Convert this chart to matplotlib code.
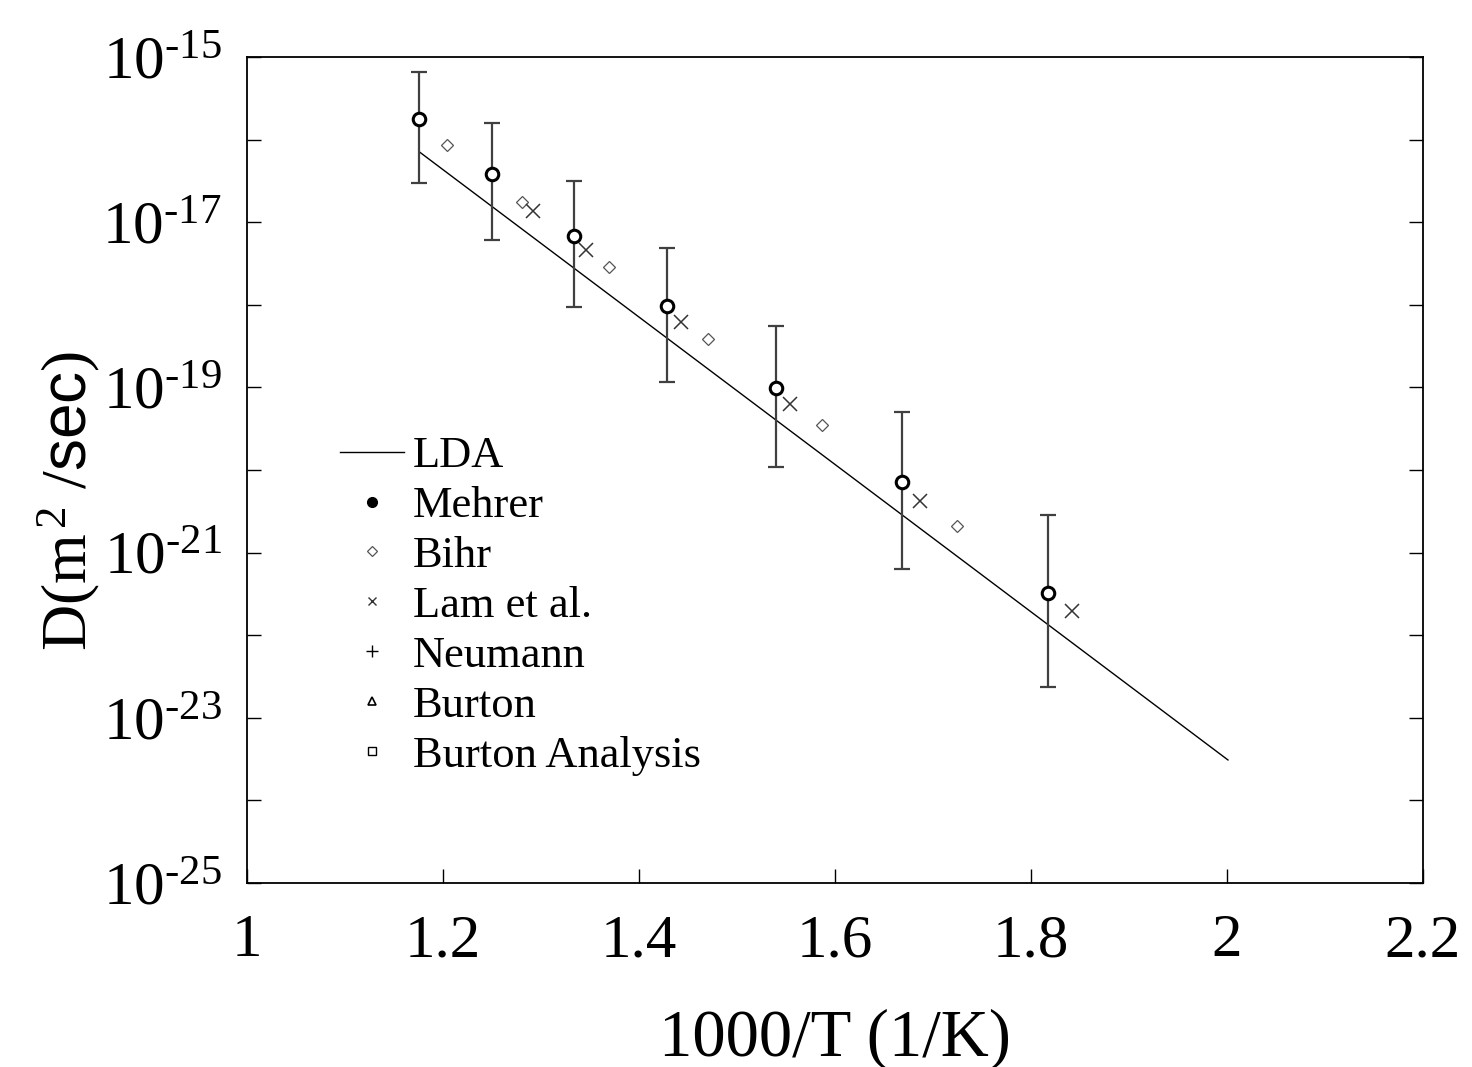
import numpy as np
import matplotlib
matplotlib.use('Agg')
import matplotlib.pyplot as plt
from matplotlib.lines import Line2D
from matplotlib.ticker import FixedLocator, FuncFormatter

plt.rcParams['font.family'] = ['Liberation Serif', 'DejaVu Serif']
plt.rcParams['mathtext.fontset'] = 'custom'
plt.rcParams['mathtext.rm'] = 'Liberation Serif'
plt.rcParams['mathtext.it'] = 'Liberation Serif:italic'
plt.rcParams['mathtext.sf'] = 'Liberation Sans'

# Mehrer (with error bars), values as log10(D)
mehrer_x = [1.176, 1.250, 1.334, 1.429, 1.540, 1.668, 1.817]
mehrer_logD = [-15.75, -16.42, -17.17, -18.01, -19.01, -20.15, -21.49]
mehrer_top = [-15.18, -15.80, -16.50, -17.31, -18.26, -19.30, -20.54]
mehrer_bot = [-16.53, -17.22, -18.03, -18.93, -19.96, -21.20, -22.63]

# Bihr
bihr_x = [1.204, 1.281, 1.369, 1.470, 1.587, 1.724]
bihr_logD = [-16.07, -16.75, -17.54, -18.42, -19.46, -20.68]

# Lam et al.
lam_x = [1.292, 1.346, 1.443, 1.554, 1.687, 1.842]
lam_logD = [-16.86, -17.34, -18.21, -19.20, -20.37, -21.71]

# LDA fit line
lda_x = [1.176, 2.001]
lda_logD = [-16.15, -23.51]

legend_labels = ['LDA', 'Mehrer', 'Bihr', 'Lam et al.', 'Neumann', 'Burton', 'Burton Analysis']

fig = plt.figure(figsize=(14.72, 10.67), dpi=100)
ax = fig.add_axes([0.1678, 0.1724, 0.7989, 0.7742])

ax.plot(lda_x, 10.0 ** np.array(lda_logD), color='black', lw=1.0)

y = 10.0 ** np.array(mehrer_logD)
yerr = [y - 10.0 ** np.array(mehrer_bot), 10.0 ** np.array(mehrer_top) - y]
ax.errorbar(mehrer_x, y, yerr=yerr, fmt='none', ecolor='#404040', elinewidth=1.6,
            capsize=6, capthick=1.6)
ax.plot(mehrer_x, y, 'o', ms=9, mfc='white', mec='black', mew=2.2)

ax.plot(bihr_x, 10.0 ** np.array(bihr_logD), 'D', ms=6, mfc='white', mec='#555555', mew=0.9)
ax.plot(lam_x, 10.0 ** np.array(lam_logD), 'x', ms=10, color='#333333', mew=1.1)

ax.set_yscale('log')
ax.set_xlim(1, 2.2)
ax.set_ylim(1e-25, 1e-15)

ax.yaxis.set_major_locator(FixedLocator([10.0 ** e for e in range(-25, -14)]))
ax.yaxis.set_minor_locator(FixedLocator([]))


def ylab(v, pos):
    e = int(round(np.log10(v)))
    if e % 2 == 0:
        return ''
    return r'$10^{\text{-}%d}$' % abs(e)


ax.yaxis.set_major_formatter(FuncFormatter(ylab))
ax.set_xticks([1, 1.2, 1.4, 1.6, 1.8, 2, 2.2])
ax.xaxis.set_major_formatter(FuncFormatter(lambda v, p: '%g' % v))

ax.tick_params(axis='both', direction='in', length=10, width=1.0, labelsize=44)
ax.tick_params(axis='y', right=True, pad=18)
ax.tick_params(axis='x', top=False, pad=22)
for s in ax.spines.values():
    s.set_linewidth(1.3)

ax.set_xlabel('1000/T (1/K)', fontsize=48, labelpad=28)
ax.set_ylabel(r'D(m$^{\,2}$ /$\mathsf{sec}$)', fontsize=46)
ax.yaxis.set_label_coords(-0.123, 0.4625)

handles = [
    Line2D([], [], color='black', lw=1.0),
    Line2D([], [], ls='none', marker='o', ms=7, mfc='black', mec='black'),
    Line2D([], [], ls='none', marker='D', ms=5, mfc='white', mec='#555555', mew=0.9),
    Line2D([], [], ls='none', marker='x', ms=6, color='#333333', mew=1.0),
    Line2D([], [], ls='none', marker='+', ms=8, color='black', mew=1.0),
    Line2D([], [], ls='none', marker='^', ms=6, mfc='white', mec='black', mew=1.2),
    Line2D([], [], ls='none', marker='s', ms=6, mfc='white', mec='black', mew=1.0),
]
ax.legend(handles, legend_labels, loc='upper left', bbox_to_anchor=(0.079, 0.541),
          frameon=False, fontsize=32, handlelength=1.45, handletextpad=0.2,
          labelspacing=0.22, borderpad=0, borderaxespad=0)

fig.savefig('out.png', dpi=100)
